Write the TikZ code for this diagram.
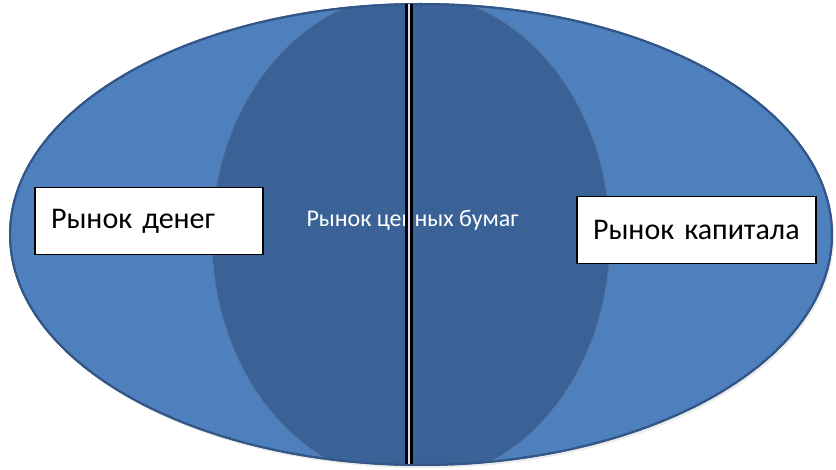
\documentclass[tikz,border=0pt]{standalone}
\usepackage{fontspec}
\setmainfont{Carlito}
\def\outerring{(421,234.5) ellipse (411 and 230.5)}
\def\innerring{(411,238) ellipse (199 and 244)}
\definecolor{market light}{RGB}{78,128,189}
\definecolor{market dark}{RGB}{58,98,150}
\definecolor{market edge}{RGB}{50,86,135}
\tikzset{
  outer/.style={fill=market light, draw=market edge, line width=2pt},
  inner/.style={fill=market dark, draw=market edge!80!white, line width=0.6pt},
  divider/.style={draw=black, line width=3pt, double=white!85!blue, double distance=1.6pt},
  labelbox/.style={draw=black, fill=white, line width=1.6pt, align=left, inner xsep=16pt,
    minimum height=67pt, font=\fontsize{30}{34}\selectfont}
}
\tikzstyle{midlabel}=[text=white, font=\fontsize{24}{27}\selectfont]

\begin{document}
\begin{tikzpicture}[x=1pt,y=-1pt]
  \useasboundingbox (0,0) rectangle (836,470);

  % faint shadow under the big ring
  \fill[black, opacity=0.08] (423,238) ellipse (411 and 230);
  \draw[outer] \outerring;

  \begin{scope}
    \clip \outerring;
    \draw[inner] \innerring;
  \end{scope}
  \draw[market edge, line width=2pt] \outerring;

  \node[labelbox, text width=196pt] (money) at (149,221) {Рынок денег};
  \node[labelbox, text width=207pt] (capital) at (696.5,230) {Рынок капитала};
  \node[midlabel] (securities) at (412.5,220) {Рынок ценных бумаг};

  % line goes over the middle text
  \coordinate (top) at (409,4);
  \coordinate (bottom) at (409,464);
  \draw[divider] (top) -- (bottom);

\end{tikzpicture}
\end{document}
